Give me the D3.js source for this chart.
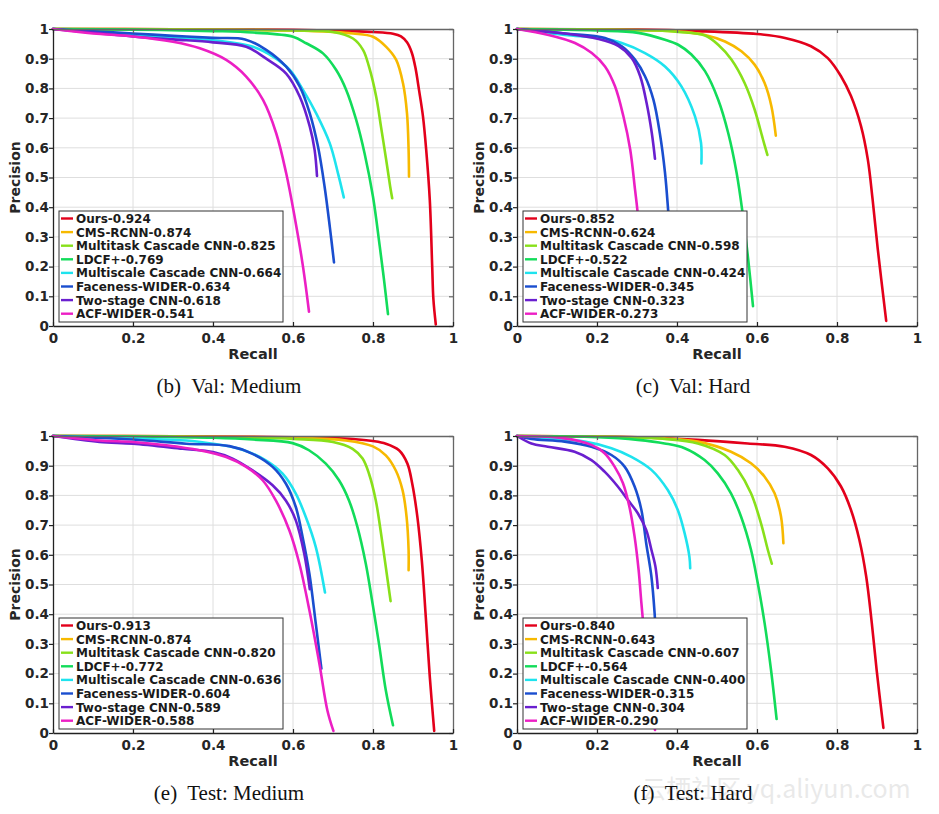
<!DOCTYPE html>
<html>
<head>
<meta charset="utf-8">
<script src="https://cdn.jsdelivr.net/npm/d3@7"></script>
<style>
  html, body { margin: 0; padding: 0; background: #fff; }
  svg { display: block; }
</style>
</head>
<body>
<script>
// ---------------- DATA ----------------
const methods = ["Ours", "CMS-RCNN", "Multitask Cascade CNN", "LDCF+", "Multiscale Cascade CNN", "Faceness-WIDER", "Two-stage CNN", "ACF-WIDER"];
const captions = ["(b)  Val: Medium", "(c)  Val: Hard", "(e)  Test: Medium", "(f)  Test: Hard"];
const xTicks = [0, 0.2, 0.4, 0.6, 0.8, 1];
const yTicks = [0, 0.1, 0.2, 0.3, 0.4, 0.5, 0.6, 0.7, 0.8, 0.9, 1];

const valMediumAP = [0.924, 0.874, 0.825, 0.769, 0.664, 0.634, 0.618, 0.541];
const valHardAP = [0.852, 0.624, 0.598, 0.522, 0.424, 0.345, 0.323, 0.273];
const testMediumAP = [0.913, 0.874, 0.820, 0.772, 0.636, 0.604, 0.589, 0.588];
const testHardAP = [0.840, 0.643, 0.607, 0.564, 0.400, 0.315, 0.304, 0.290];

// [recall, precision] points per method
const valMediumCurves = [
  [[0,1],[0.3,0.999],[0.6,0.997],[0.75,0.993],[0.8,0.99],[0.85,0.984],[0.87,0.975],[0.885,0.955],[0.897,0.92],[0.906,0.87],[0.915,0.795],[0.925,0.705],[0.933,0.593],[0.942,0.424],[0.948,0.2],[0.951,0.09],[0.957,0.005]],
  [[0,1],[0.3,0.999],[0.6,0.995],[0.7,0.99],[0.75,0.985],[0.8,0.974],[0.833,0.94],[0.858,0.896],[0.875,0.817],[0.885,0.716],[0.889,0.593],[0.89,0.503]],
  [[0,1],[0.3,0.998],[0.6,0.995],[0.7,0.99],[0.75,0.968],[0.775,0.93],[0.79,0.873],[0.808,0.772],[0.82,0.671],[0.833,0.559],[0.843,0.469],[0.848,0.43]],
  [[0,1],[0.2,0.998],[0.4,0.993],[0.5,0.988],[0.6,0.974],[0.633,0.952],[0.675,0.918],[0.708,0.862],[0.733,0.795],[0.758,0.694],[0.779,0.581],[0.8,0.435],[0.817,0.267],[0.828,0.15],[0.8375,0.04]],
  [[0,1],[0.1,0.99],[0.2,0.98],[0.3,0.972],[0.4,0.962],[0.5,0.94],[0.55,0.907],[0.592,0.862],[0.625,0.795],[0.658,0.716],[0.692,0.615],[0.7125,0.514],[0.727,0.433]],
  [[0,1],[0.1,0.992],[0.2,0.985],[0.3,0.977],[0.4,0.97],[0.48,0.965],[0.533,0.93],[0.583,0.873],[0.617,0.806],[0.642,0.716],[0.6625,0.604],[0.679,0.469],[0.692,0.334],[0.7025,0.214]],
  [[0,1],[0.1,0.988],[0.2,0.975],[0.3,0.965],[0.4,0.955],[0.483,0.94],[0.533,0.9],[0.583,0.85],[0.617,0.772],[0.642,0.671],[0.654,0.593],[0.66,0.505]],
  [[0,1],[0.1,0.985],[0.2,0.975],[0.3,0.957],[0.367,0.935],[0.433,0.896],[0.483,0.84],[0.525,0.761],[0.558,0.649],[0.583,0.514],[0.604,0.368],[0.625,0.2],[0.64,0.048]]
];
const valHardCurves = [
  [[0,1],[0.3,0.998],[0.45,0.993],[0.6,0.983],[0.67,0.97],[0.735,0.942],[0.777,0.902],[0.81,0.841],[0.835,0.774],[0.86,0.673],[0.877,0.561],[0.889,0.426],[0.902,0.258],[0.923,0.017]],
  [[0,1],[0.2,0.998],[0.35,0.995],[0.403,0.992],[0.47,0.98],[0.52,0.958],[0.561,0.925],[0.594,0.88],[0.619,0.818],[0.636,0.74],[0.647,0.641]],
  [[0,1],[0.2,0.998],[0.35,0.995],[0.403,0.99],[0.47,0.978],[0.503,0.947],[0.536,0.897],[0.569,0.818],[0.594,0.729],[0.615,0.628],[0.626,0.576]],
  [[0,1],[0.2,0.995],[0.303,0.987],[0.37,0.964],[0.403,0.947],[0.436,0.914],[0.47,0.858],[0.503,0.762],[0.528,0.65],[0.549,0.516],[0.565,0.37],[0.578,0.224],[0.59,0.067]],
  [[0,1],[0.12,0.98],[0.204,0.97],[0.262,0.953],[0.32,0.919],[0.37,0.874],[0.411,0.807],[0.445,0.706],[0.46,0.617],[0.461,0.547]],
  [[0,1],[0.12,0.985],[0.22,0.97],[0.262,0.942],[0.295,0.897],[0.32,0.841],[0.341,0.762],[0.357,0.65],[0.37,0.516],[0.378,0.387],[0.385,0.25],[0.39,0.1]],
  [[0,1],[0.12,0.985],[0.204,0.966],[0.254,0.942],[0.287,0.902],[0.308,0.841],[0.324,0.751],[0.337,0.65],[0.345,0.563]],
  [[0,1],[0.079,0.98],[0.145,0.953],[0.187,0.919],[0.22,0.874],[0.245,0.807],[0.266,0.706],[0.283,0.594],[0.295,0.46],[0.301,0.389],[0.308,0.25],[0.314,0.1]]
];
const testMediumCurves = [
  [[0,1],[0.3,0.999],[0.6,0.996],[0.75,0.99],[0.8,0.983],[0.832,0.974],[0.865,0.952],[0.886,0.907],[0.898,0.84],[0.911,0.727],[0.922,0.581],[0.932,0.39],[0.942,0.189],[0.953,0.007]],
  [[0,1],[0.3,0.999],[0.6,0.994],[0.732,0.985],[0.8,0.965],[0.832,0.935],[0.857,0.884],[0.874,0.817],[0.884,0.727],[0.889,0.615],[0.889,0.548]],
  [[0,1],[0.3,0.998],[0.6,0.99],[0.7,0.98],[0.749,0.957],[0.774,0.924],[0.79,0.873],[0.807,0.783],[0.819,0.682],[0.832,0.559],[0.844,0.444]],
  [[0,1],[0.2,0.998],[0.4,0.994],[0.5,0.988],[0.599,0.976],[0.64,0.952],[0.682,0.907],[0.715,0.851],[0.74,0.783],[0.761,0.694],[0.782,0.57],[0.799,0.435],[0.815,0.3],[0.832,0.144],[0.85,0.026]],
  [[0,1],[0.2,0.991],[0.333,0.985],[0.4,0.974],[0.466,0.957],[0.532,0.918],[0.574,0.873],[0.607,0.806],[0.632,0.727],[0.657,0.626],[0.68,0.473]],
  [[0,1],[0.2,0.988],[0.333,0.974],[0.441,0.966],[0.499,0.94],[0.549,0.896],[0.582,0.84],[0.607,0.761],[0.624,0.66],[0.641,0.536],[0.657,0.368],[0.671,0.217]],
  [[0,1],[0.116,0.98],[0.2,0.974],[0.324,0.957],[0.4,0.946],[0.449,0.924],[0.499,0.884],[0.549,0.834],[0.582,0.783],[0.607,0.716],[0.628,0.604],[0.642,0.484]],
  [[0,1],[0.116,0.985],[0.2,0.98],[0.283,0.969],[0.366,0.952],[0.433,0.929],[0.483,0.896],[0.524,0.851],[0.557,0.783],[0.591,0.682],[0.616,0.57],[0.641,0.413],[0.666,0.233],[0.686,0.076],[0.701,0.007]]
];
const testHardCurves = [
  [[0,1],[0.302,0.996],[0.452,0.987],[0.577,0.975],[0.669,0.964],[0.735,0.936],[0.777,0.891],[0.81,0.83],[0.835,0.751],[0.856,0.65],[0.873,0.527],[0.887,0.37],[0.899,0.213],[0.916,0.017]],
  [[0,1],[0.2,0.998],[0.369,0.992],[0.452,0.981],[0.535,0.947],[0.585,0.908],[0.619,0.863],[0.644,0.807],[0.66,0.729],[0.666,0.639]],
  [[0,1],[0.2,0.998],[0.369,0.99],[0.452,0.975],[0.519,0.936],[0.552,0.886],[0.585,0.807],[0.61,0.706],[0.627,0.617],[0.637,0.57]],
  [[0,1],[0.202,0.996],[0.302,0.987],[0.369,0.975],[0.419,0.959],[0.469,0.919],[0.502,0.874],[0.535,0.807],[0.56,0.729],[0.585,0.617],[0.602,0.504],[0.619,0.37],[0.635,0.213],[0.649,0.047]],
  [[0,1],[0.077,0.992],[0.169,0.981],[0.236,0.959],[0.286,0.93],[0.336,0.886],[0.377,0.818],[0.402,0.751],[0.419,0.673],[0.431,0.594],[0.433,0.555]],
  [[0,1],[0.036,0.99],[0.119,0.981],[0.186,0.964],[0.236,0.936],[0.269,0.897],[0.294,0.83],[0.311,0.751],[0.323,0.639],[0.336,0.527],[0.344,0.404],[0.35,0.25],[0.352,0.1]],
  [[0,1],[0.036,0.975],[0.077,0.964],[0.144,0.947],[0.186,0.919],[0.219,0.88],[0.252,0.83],[0.277,0.785],[0.302,0.74],[0.323,0.684],[0.336,0.617],[0.346,0.561],[0.352,0.488]],
  [[0,1],[0.119,0.992],[0.186,0.97],[0.219,0.942],[0.244,0.897],[0.265,0.841],[0.281,0.762],[0.294,0.661],[0.304,0.549],[0.311,0.437],[0.32,0.3],[0.33,0.15],[0.345,0.01]]
];

// ---------------- STYLE ----------------
const colors = ["#e3001b", "#f7b900", "#88e01a", "#12dc5a", "#1ee3ee", "#1a4ecf", "#6a1fcf", "#ec1fc4"];
const W = 939, H = 814;
const PW = 400, PH = 297;
const layout = [
  {left: 53, top: 29},
  {left: 517, top: 29},
  {left: 53, top: 436},
  {left: 517, top: 436}
];
const panelData = [
  {curves: valMediumCurves, ap: valMediumAP, caption: captions[0]},
  {curves: valHardCurves, ap: valHardAP, caption: captions[1]},
  {curves: testMediumCurves, ap: testMediumAP, caption: captions[2]},
  {curves: testHardCurves, ap: testHardAP, caption: captions[3]}
];

const svg = d3.select("body").append("svg").attr("width", W).attr("height", H)
  .style("font-family", "'DejaVu Sans', sans-serif");

const fmt = d => (d === 0 ? "0" : d === 1 ? "1" : d3.format(".1f")(d));

// watermark (faint, behind everything)
svg.append("text").attr("x", 776).attr("y", 798).attr("text-anchor", "middle")
  .attr("fill", "#d4d4d4").attr("fill-opacity", 0.5)
  .style("font-family", "'Noto Sans CJK SC', 'DejaVu Sans', sans-serif")
  .style("font-size", "25px").text("云栖社区 yq.aliyun.com");

panelData.forEach((pd, i) => {
  const L = layout[i];
  const x = d3.scaleLinear().domain([0, 1]).range([L.left, L.left + PW]);
  const y = d3.scaleLinear().domain([0, 1]).range([L.top + PH, L.top]);
  const g = svg.append("g");

  // grid
  g.append("g").selectAll("line").data(xTicks.slice(1, -1)).join("line")
    .attr("x1", d => x(d)).attr("x2", d => x(d)).attr("y1", y(0)).attr("y2", y(1))
    .attr("stroke", "#dedede").attr("stroke-width", 1);
  g.append("g").selectAll("line").data(yTicks.slice(1, -1)).join("line")
    .attr("y1", d => y(d)).attr("y2", d => y(d)).attr("x1", x(0)).attr("x2", x(1))
    .attr("stroke", "#dedede").attr("stroke-width", 1);

  // curves
  const clipId = "clip" + i;
  svg.append("clipPath").attr("id", clipId).append("rect")
    .attr("x", x(0) - 2).attr("y", y(1) - 2).attr("width", PW + 4).attr("height", PH + 4);
  const line = d3.line().x(d => x(d[0])).y(d => y(d[1])).curve(d3.curveCatmullRom.alpha(0.5));
  const cg = g.append("g").attr("clip-path", `url(#${clipId})`);
  pd.curves.forEach((c, k) => {
    cg.append("path").datum(c).attr("d", line)
      .attr("fill", "none").attr("stroke", colors[k]).attr("stroke-width", 2.6)
      .attr("stroke-linejoin", "round").attr("stroke-linecap", "round");
  });

  // axes
  const styleAxis = (sel, col) => {
    sel.select(".domain").attr("stroke", col).attr("stroke-width", 1.3);
    sel.selectAll(".tick line").attr("stroke", col).attr("stroke-width", 1.2);
    sel.selectAll(".tick text").attr("fill", "#262626")
      .style("font-size", "13.5px").style("font-weight", "bold")
      .style("font-family", "'DejaVu Sans', sans-serif");
  };
  const top = g.append("g").attr("transform", `translate(0,${y(1)})`)
    .call(d3.axisTop(x).tickValues(xTicks).tickSizeInner(-4).tickSizeOuter(0).tickFormat(""));
  styleAxis(top, "#666");
  const right = g.append("g").attr("transform", `translate(${x(1)},0)`)
    .call(d3.axisRight(y).tickValues(yTicks).tickSizeInner(-4).tickSizeOuter(0).tickFormat(""));
  styleAxis(right, "#666");
  const bottom = g.append("g").attr("transform", `translate(0,${y(0)})`)
    .call(d3.axisBottom(x).tickValues(xTicks).tickSizeInner(-4).tickSizeOuter(0).tickPadding(7).tickFormat(fmt));
  styleAxis(bottom, "#222");
  const left = g.append("g").attr("transform", `translate(${x(0)},0)`)
    .call(d3.axisLeft(y).tickValues(yTicks).tickSizeInner(4).tickSizeOuter(0).tickPadding(0).tickFormat(fmt));
  styleAxis(left, "#222");

  // axis labels
  g.append("text").attr("x", (x(0) + x(1)) / 2).attr("y", y(0) + 33)
    .attr("text-anchor", "middle").attr("fill", "#262626")
    .style("font-size", "14.5px").style("font-weight", "bold").text("Recall");
  g.append("text").attr("transform", `translate(${x(0) - 33},${(y(0) + y(1)) / 2}) rotate(-90)`)
    .attr("text-anchor", "middle").attr("fill", "#262626")
    .style("font-size", "14px").style("font-weight", "bold").text("Precision");

  // legend
  const lx = x(0) + 6, ly = y(0) - 115;
  const lg = g.append("g");
  lg.append("rect").attr("x", lx).attr("y", ly).attr("width", 224).attr("height", 111)
    .attr("fill", "#fff").attr("stroke", "#333").attr("stroke-width", 1);
  methods.forEach((m, k) => {
    const cy = ly + 7.5 + k * 13.6;
    lg.append("line").attr("x1", lx + 2).attr("x2", lx + 14).attr("y1", cy).attr("y2", cy)
      .attr("stroke", colors[k]).attr("stroke-width", 2.4);
    lg.append("text").attr("x", lx + 17).attr("y", cy + 4.4)
      .attr("fill", "#1a1a1a").style("font-size", "12px").style("font-weight", "bold")
      .text(`${m}-${pd.ap[k].toFixed(3)}`);
  });

  // caption
  g.append("text").attr("x", (x(0) + x(1)) / 2 - 24).attr("y", y(0) + 67)
    .attr("text-anchor", "middle").attr("fill", "#111")
    .style("font-family", "'Liberation Serif', 'Times New Roman', serif")
    .style("font-size", "21px").style("white-space", "pre").text(pd.caption);
});
</script>
</body>
</html>
